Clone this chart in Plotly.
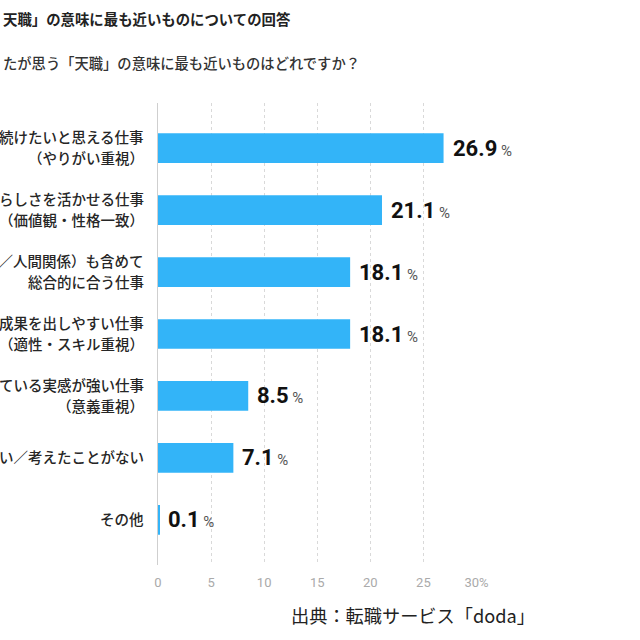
import plotly.graph_objects as go

title_text = "天職」の意味に最も近いものについての回答"
subtitle_text = "たが思う「天職」の意味に最も近いものはどれですか？"
source_text = "出典：転職サービス「doda」"

categories = [
    "続けたいと思える仕事<br>（やりがい重視）",
    "らしさを活かせる仕事<br>（価値観・性格一致）",
    "ナ／人間関係）も含めて<br>総合的に合う仕事",
    "成果を出しやすい仕事<br>（適性・スキル重視）",
    "ている実感が強い仕事<br>（意義重視）",
    "い／考えたことがない",
    "その他",
]
values = [26.9, 21.1, 18.1, 18.1, 8.5, 7.1, 0.1]

tick_vals = [0, 5, 10, 15, 20, 25, 30]
tick_text = ["0", "5", "10", "15", "20", "25", "30%"]

BAR = "#33b4f8"
JP = "Noto Sans CJK JP"
LINE_GAP = 21.5

fig = go.Figure()
fig.add_trace(go.Bar(
    x=values, y=categories, orientation="h",
    marker=dict(color=BAR, line=dict(width=0)),
    width=0.48, hoverinfo="skip", cliponaxis=False,
))

for c, v in zip(categories, values):
    fig.add_annotation(
        x=v, y=c, xref="x", yref="y", xanchor="left", yanchor="middle",
        xshift=7, showarrow=False,
        text=f"<b>{v:.1f}</b><span style='font-size:15px;color:#555'> %</span>",
        font=dict(family="Roboto, " + JP, size=22, color="#111"),
    )
    lines = c.split("<br>")
    n = len(lines)
    for i, ln in enumerate(lines):
        fig.add_annotation(
            x=0, y=c, xref="paper", yref="y", xanchor="right", yanchor="middle",
            xshift=-12, yshift=-(i - (n - 1) / 2) * LINE_GAP + 1, showarrow=False,
            text=ln,
            font=dict(family=JP, size=14.5, color="#262626", weight=500),
        )

fig.update_layout(
    width=640, height=640,
    margin=dict(l=157.5, r=163, t=103, b=75, autoexpand=False),
    paper_bgcolor="white", plot_bgcolor="white",
    showlegend=False,
    font=dict(family=JP, color="#333"),
    xaxis=dict(
        range=[0, 30.05], tickvals=tick_vals, ticktext=tick_text,
        showgrid=True, gridcolor="#d9d9d9", griddash="dot", gridwidth=1,
        zeroline=False, showline=False, ticks="", automargin=False,
        tickfont=dict(family="Roboto", size=13, color="#aaaaaa"),
        ticklabelstandoff=8,
    ),
    yaxis=dict(
        categoryorder="array", categoryarray=categories,
        range=[6.73, -0.73], automargin=False,
        showgrid=False, zeroline=False,
        showline=True, linecolor="#cfcfcf", linewidth=1,
        ticks="", showticklabels=False,
    ),
)

fig.add_annotation(
    xref="paper", yref="paper", x=0, y=1, xshift=-157.5, yshift=103 - 18,
    xanchor="left", yanchor="middle", showarrow=False,
    text=title_text,
    font=dict(family=JP, size=14.4, color="#222", weight=700),
)
fig.add_annotation(
    xref="paper", yref="paper", x=0, y=1, xshift=-157.5, yshift=103 - 62,
    xanchor="left", yanchor="middle", showarrow=False,
    text=subtitle_text,
    font=dict(family=JP, size=14.3, color="#333", weight=500),
)
fig.add_annotation(
    xref="paper", yref="paper", x=0, y=0, xshift=288 - 157.5, yshift=-(615 - 565),
    xanchor="left", yanchor="middle", showarrow=False,
    text=source_text,
    font=dict(family=JP, size=18.2, color="#222"),
)

fig.write_html("out.html")
